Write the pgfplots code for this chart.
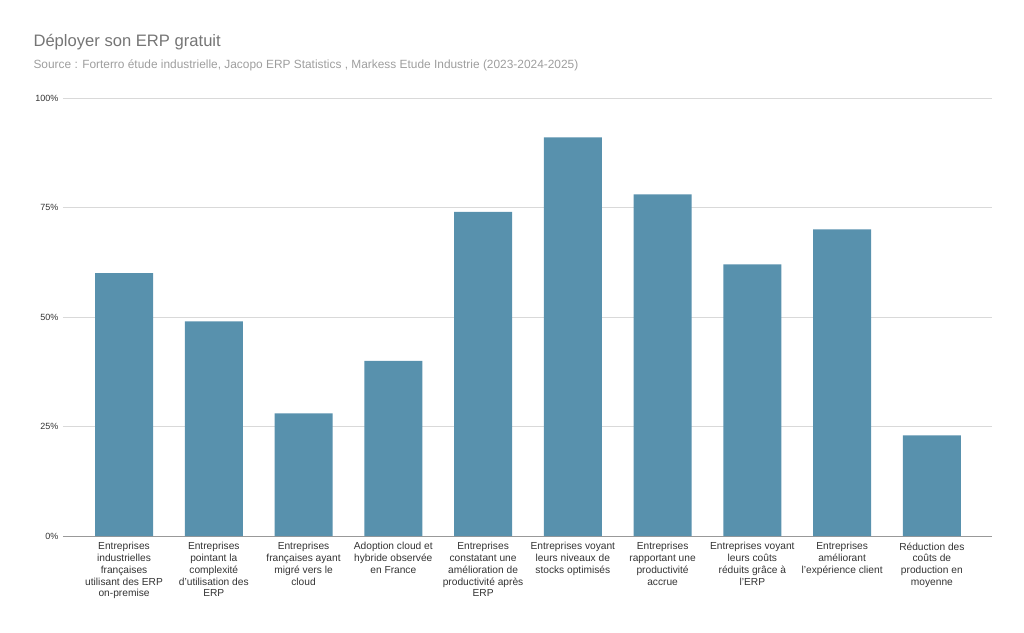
\documentclass[border=0pt]{standalone}
\usepackage{pgfplots}
\pgfplotsset{compat=1.18}
\usepackage{fontspec}
\setmainfont{Liberation Sans}
\definecolor{barblue}{HTML}{5891AD}
\definecolor{titlegray}{HTML}{757575}
\definecolor{subgray}{HTML}{9E9E9E}
\definecolor{gridgray}{HTML}{D9D9D9}
\definecolor{ticktext}{HTML}{333333}
\begin{document}
\begin{tikzpicture}
\begin{axis}[
  scale only axis, width=929pt, height=438pt,
  xmin=-0.68, xmax=9.67, ymin=0, ymax=100,
  ybar, bar width=58pt,
  axis x line*=bottom, axis y line*=left,
  x axis line style={draw=gray!80, line width=0.8pt},
  y axis line style={draw=none},
  ymajorgrids, grid style={gridgray, line width=0.6pt},
  ytick={0,25,50,75,100},
  yticklabel={\pgfmathprintnumber{\tick}\%},
  yticklabel style={font=\fontsize{9}{11}\selectfont, text=ticktext, xshift=-1pt},
  xtick=data, major tick length=0pt,
  xticklabels={
    {Entreprises\\industrielles\\françaises\\utilisant des ERP\\on-premise},
    {Entreprises\\pointant la\\complexité\\d'utilisation des\\ERP},
    {Entreprises\\françaises ayant\\migré vers le\\cloud},
    {Adoption cloud et\\hybride observée\\en France},
    {Entreprises\\constatant une\\amélioration de\\productivité après\\ERP},
    {Entreprises voyant\\leurs niveaux de\\stocks optimisés},
    {Entreprises\\rapportant une\\productivité\\accrue},
    {Entreprises voyant\\leurs coûts\\réduits grâce à\\l'ERP},
    {Entreprises\\améliorant\\l'expérience client},
    {Réduction des\\coûts de\\production en\\moyenne}},
  xticklabel style={font=\fontsize{10.2}{11.7}\selectfont, text=ticktext, align=center, anchor=north, yshift=-3pt},
  /pgf/number format/assume math mode=true,
  clip=false,
]
\addplot[fill=barblue, draw=none] coordinates {
 (0,60) (1,49) (2,28) (3,40) (4,74) (5,91) (6,78) (7,62) (8,70) (9,23)};
\end{axis}
\node[anchor=west, text=titlegray, font=\fontsize{16.6}{19}\selectfont] at (-33pt,494pt) {Déployer son ERP gratuit};
\node[anchor=west, text=subgray, font=\fontsize{11.9}{14}\selectfont] at (-33pt,471pt) {Source : Forterro étude industrielle, Jacopo ERP Statistics , Markess Etude Industrie (2023-2024-2025)};
\path[use as bounding box] (-63pt,-96pt) rectangle (961pt,536pt);
\end{tikzpicture}
\end{document}
